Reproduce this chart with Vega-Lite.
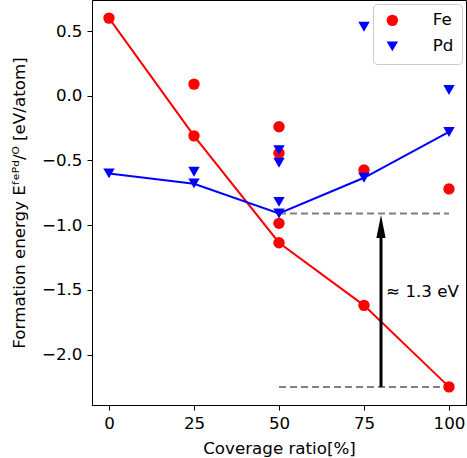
{
  "$schema": "https://vega.github.io/schema/vega-lite/v6.json",
  "width": 374,
  "height": 405,
  "autosize": {"type": "none"},
  "padding": {"left": 92, "top": 0, "right": 1, "bottom": 53},
  "background": "white",
  "config": {
    "font": "DejaVu Sans",
    "view": {"stroke": "black", "strokeWidth": 1},
    "axis": {
      "labelFont": "DejaVu Sans", "titleFont": "DejaVu Sans",
      "labelFontSize": 16.7, "titleFontSize": 16.7, "titleFontWeight": "normal",
      "labelColor": "black", "titleColor": "black",
      "tickColor": "black", "domainColor": "black",
      "tickSize": 5, "grid": false, "labelPadding": 5
    },
    "legend": {"labelFont": "DejaVu Sans", "labelFontSize": 16.7, "labelColor": "black"}
  },
  "datasets": {
    "points": [
      {"series": "Fe", "coverage": 0, "energy": 0.6},
      {"series": "Fe", "coverage": 25, "energy": 0.09},
      {"series": "Fe", "coverage": 25, "energy": -0.31},
      {"series": "Fe", "coverage": 50, "energy": -0.24},
      {"series": "Fe", "coverage": 50, "energy": -0.445},
      {"series": "Fe", "coverage": 50, "energy": -0.986},
      {"series": "Fe", "coverage": 50, "energy": -1.136},
      {"series": "Fe", "coverage": 75, "energy": -0.574},
      {"series": "Fe", "coverage": 75, "energy": -1.62},
      {"series": "Fe", "coverage": 100, "energy": -0.72},
      {"series": "Fe", "coverage": 100, "energy": -2.25},
      {"series": "Pd", "coverage": 0, "energy": -0.6},
      {"series": "Pd", "coverage": 25, "energy": -0.587},
      {"series": "Pd", "coverage": 25, "energy": -0.677},
      {"series": "Pd", "coverage": 50, "energy": -0.42},
      {"series": "Pd", "coverage": 50, "energy": -0.518},
      {"series": "Pd", "coverage": 50, "energy": -0.82},
      {"series": "Pd", "coverage": 50, "energy": -0.91},
      {"series": "Pd", "coverage": 75, "energy": 0.533},
      {"series": "Pd", "coverage": 75, "energy": -0.634},
      {"series": "Pd", "coverage": 100, "energy": 0.044},
      {"series": "Pd", "coverage": 100, "energy": -0.28}
    ],
    "lines": [
      {"series": "Fe", "coverage": 0, "energy": 0.6},
      {"series": "Fe", "coverage": 25, "energy": -0.31},
      {"series": "Fe", "coverage": 50, "energy": -1.136},
      {"series": "Fe", "coverage": 75, "energy": -1.62},
      {"series": "Fe", "coverage": 100, "energy": -2.25},
      {"series": "Pd", "coverage": 0, "energy": -0.6},
      {"series": "Pd", "coverage": 25, "energy": -0.68},
      {"series": "Pd", "coverage": 50, "energy": -0.91},
      {"series": "Pd", "coverage": 75, "energy": -0.634},
      {"series": "Pd", "coverage": 100, "energy": -0.28}
    ],
    "guides": [
      {"start": 50, "end": 100, "level": -0.91},
      {"start": 50, "end": 100, "level": -2.25}
    ],
    "arrow": [{"coverage": 80, "from": -2.25, "to": -1.05}],
    "arrowhead": [{"coverage": 80, "energy": -1.011}],
    "note": [{"coverage": 81.5, "energy": -1.52, "text": "≈ 1.3 eV"}]
  },
  "layer": [
    {
      "data": {"name": "guides"},
      "mark": {"type": "rule", "color": "#808080", "strokeWidth": 2, "strokeDash": [7, 4]},
      "encoding": {
        "x": {"field": "start", "type": "quantitative", "scale": {"domain": [-5, 105], "nice": false}, "axis": {"values": [0, 25, 50, 75, 100], "title": "Coverage ratio[%]", "titlePadding": 9}},
        "x2": {"field": "end"},
        "y": {"field": "level", "type": "quantitative", "scale": {"domain": [-2.39, 0.74], "nice": false, "zero": false}, "axis": {"values": [-2, -1.5, -1, -0.5, 0, 0.5], "format": ".1f", "title": "Formation energy Eᶠᵉᴾᵈ/ᴼ [eV/atom]", "titlePadding": 13}}
      }
    },
    {
      "data": {"name": "lines"},
      "transform": [{"filter": "datum.series === 'Fe'"}],
      "mark": {"type": "line", "strokeWidth": 2, "color": "#ff0000"},
      "encoding": {
        "x": {"field": "coverage", "type": "quantitative"},
        "y": {"field": "energy", "type": "quantitative"}
      }
    },
    {
      "data": {"name": "lines"},
      "transform": [{"filter": "datum.series === 'Pd'"}],
      "mark": {"type": "line", "strokeWidth": 2, "color": "#0000ff"},
      "encoding": {
        "x": {"field": "coverage", "type": "quantitative"},
        "y": {"field": "energy", "type": "quantitative"}
      }
    },
    {
      "data": {"name": "points"},
      "mark": {"type": "point", "filled": true, "opacity": 1, "size": 130},
      "encoding": {
        "x": {"field": "coverage", "type": "quantitative"},
        "y": {"field": "energy", "type": "quantitative"},
        "color": {"field": "series", "type": "nominal", "scale": {"domain": ["Fe", "Pd"], "range": ["#ff0000", "#0000ff"]},
          "legend": {"title": null, "orient": "top-right", "offset": 4, "strokeColor": "#cccccc", "fillColor": "white", "cornerRadius": 4, "padding": 8, "symbolSize": 130, "rowPadding": 8, "columnPadding": 0, "symbolOffset": 3, "labelOffset": 32, "symbolOpacity": 1}},
        "shape": {"field": "series", "type": "nominal", "scale": {"domain": ["Fe", "Pd"], "range": ["circle", "triangle-down"]}}
      }
    },
    {
      "data": {"name": "arrow"},
      "mark": {"type": "rule", "color": "black", "strokeWidth": 3},
      "encoding": {
        "x": {"field": "coverage", "type": "quantitative"},
        "y": {"field": "from", "type": "quantitative"},
        "y2": {"field": "to"}
      }
    },
    {
      "data": {"name": "arrowhead"},
      "mark": {"type": "point", "shape": "M0,-1L0.4,1L-0.4,1Z", "filled": true, "color": "black", "opacity": 1, "size": 529},
      "encoding": {
        "x": {"field": "coverage", "type": "quantitative"},
        "y": {"field": "energy", "type": "quantitative"}
      }
    },
    {
      "data": {"name": "note"},
      "mark": {"type": "text", "align": "left", "baseline": "middle", "fontSize": 16.7, "font": "DejaVu Sans", "color": "black"},
      "encoding": {
        "x": {"field": "coverage", "type": "quantitative"},
        "y": {"field": "energy", "type": "quantitative"},
        "text": {"field": "text"}
      }
    }
  ]
}
